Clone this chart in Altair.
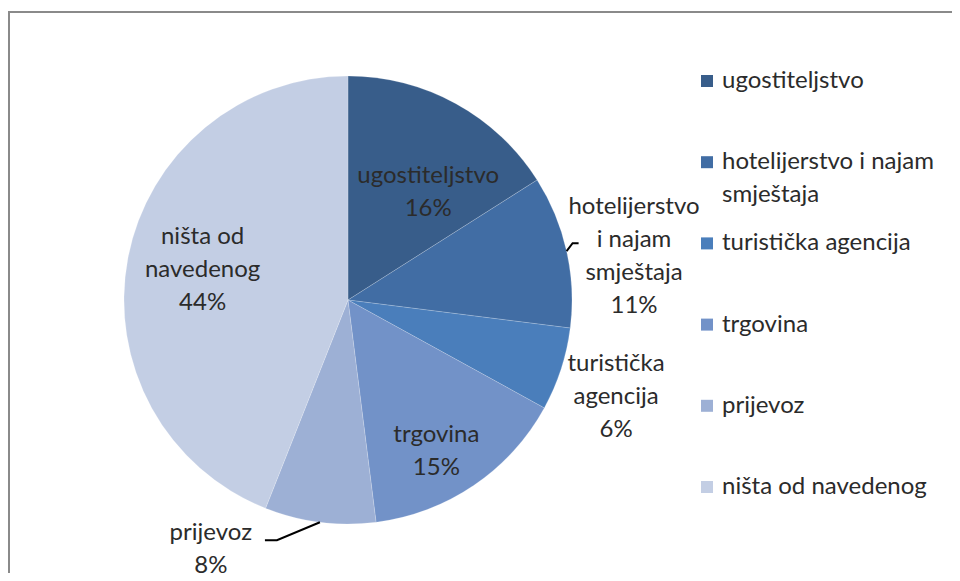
import math
import altair as alt
import pandas as pd

# ---- data ----
categories = ["ugostiteljstvo", "hotelijerstvo i najam smještaja", "turistička agencija",
              "trgovina", "prijevoz", "ništa od navedenog"]
values = [16, 11, 6, 15, 8, 44]
pie_labels = ["ugostiteljstvo\n16%", "hotelijerstvo\ni najam\nsmještaja\n11%",
              "turistička\nagencija\n6%", "trgovina\n15%", "prijevoz\n8%",
              "ništa od\nnavedenog\n44%"]
legend_labels = ["ugostiteljstvo", "hotelijerstvo i najam\nsmještaja", "turistička agencija",
                 "trgovina", "prijevoz", "ništa od navedenog"]
colors = ["#385D8A", "#416DA4", "#4A7EBB", "#7292C8", "#9DB0D5", "#C3CEE4"]

# ---- layout (pixels, plot-area coordinates) ----
W, H = 944, 565
CX, CY, R = 340, 292, 224
FONT = "Lato"
FS = 24
LH = 33
TXT = "#2b2b2b"
label_place = {
    "ugostiteljstvo": (125, 20, 2),
    "hotelijerstvo i najam smještaja": (290, 3, 20),
    "turistička agencija": (285, -3, 9),
    "trgovina": (175, -10, 7),
    "prijevoz": (265, -104, -13),
    "ništa od navedenog": (148, 0, -2),
}
leaders = {
    "hotelijerstvo i najam smještaja": [(6, -8), (12, -8)],
    "prijevoz": [(-43, 18), (-55, 18)],
}

total = sum(values)
rows, lead_rows = [], []
cum = 0
for i, (c, v, lab) in enumerate(zip(categories, values, pie_labels)):
    mid = (cum + v / 2) / total * 2 * math.pi
    cum += v
    r, dx, dy = label_place[c]
    nlines = lab.count("\n") + 1
    rows.append({"category": c, "value": v, "idx": i, "label": lab,
                 "legend": legend_labels[i],
                 "lx": CX + r * math.sin(mid) + dx,
                 "ly": CY - r * math.cos(mid) + dy - (nlines - 1) * LH / 2})
    if c in leaders:
        ex, ey = CX + R * math.sin(mid), CY - R * math.cos(mid)
        pts = [(ex, ey)] + [(ex + a, ey + b) for a, b in leaders[c]]
        for k, (px, py) in enumerate(pts):
            lead_rows.append({"category": c, "k": k, "px": px, "py": py})

df = pd.DataFrame(rows)
lead = pd.DataFrame(lead_rows)
one = pd.DataFrame({"a": [0]})

# chart frame: only the left and top edges are inside the picture (filled thin bars)
frame_left = alt.Chart(one).mark_rect(fill="#8a8a8a", strokeWidth=0).encode(
    x=alt.value(0), x2=alt.value(2), y=alt.value(3), y2=alt.value(H))
frame_top = alt.Chart(one).mark_rect(fill="#8a8a8a", strokeWidth=0).encode(
    x=alt.value(0), x2=alt.value(W), y=alt.value(3), y2=alt.value(5))

pie = alt.Chart(df).mark_arc(outerRadius=R, stroke="#ffffff", strokeWidth=0.6,
                             strokeOpacity=0.3).encode(
    theta=alt.Theta("value:Q", stack=True),
    color=alt.Color("category:N", scale=alt.Scale(domain=categories, range=colors),
                    legend=None),
    order=alt.Order("idx:Q"),
    x=alt.value(CX), y=alt.value(CY),
)

labels = alt.Chart(df).mark_text(font=FONT, fontSize=FS, color=TXT, lineBreak="\n",
                                 lineHeight=LH, align="center", baseline="middle").encode(
    x=alt.X("lx:Q", scale=None, axis=None),
    y=alt.Y("ly:Q", scale=None, axis=None),
    text="label:N",
)

leader = alt.Chart(lead).mark_line(color="#000000", strokeWidth=2).encode(
    x=alt.X("px:Q", scale=None, axis=None),
    y=alt.Y("py:Q", scale=None, axis=None),
    detail="category:N",
    order="k:Q",
)

base = alt.layer(frame_left, frame_top, pie, labels, leader)

leg_y = alt.Y("category:N", scale=alt.Scale(type="point", domain=categories,
                                           range=[73, 479], padding=0), axis=None)
leg_sq = alt.Chart(df).mark_square(size=144, opacity=1).encode(
    x=alt.value(699), y=leg_y,
    color=alt.Color("category:N", scale=alt.Scale(domain=categories, range=colors),
                    legend=None),
)
leg_txt = alt.Chart(df).mark_text(font=FONT, fontSize=FS, color=TXT, lineBreak="\n",
                                  lineHeight=LH, align="left", baseline="middle").encode(
    x=alt.value(714), y=leg_y, text="legend:N",
)
legend = alt.layer(leg_sq, leg_txt)

chart = alt.layer(base, legend).resolve_scale(y="independent", x="independent").properties(
    width=W, height=H, padding=0, autosize="none", background="#ffffff"
).configure_view(strokeWidth=0, stroke="transparent")

chart.save("out.html", embed_options={"renderer": "svg", "actions": False})
